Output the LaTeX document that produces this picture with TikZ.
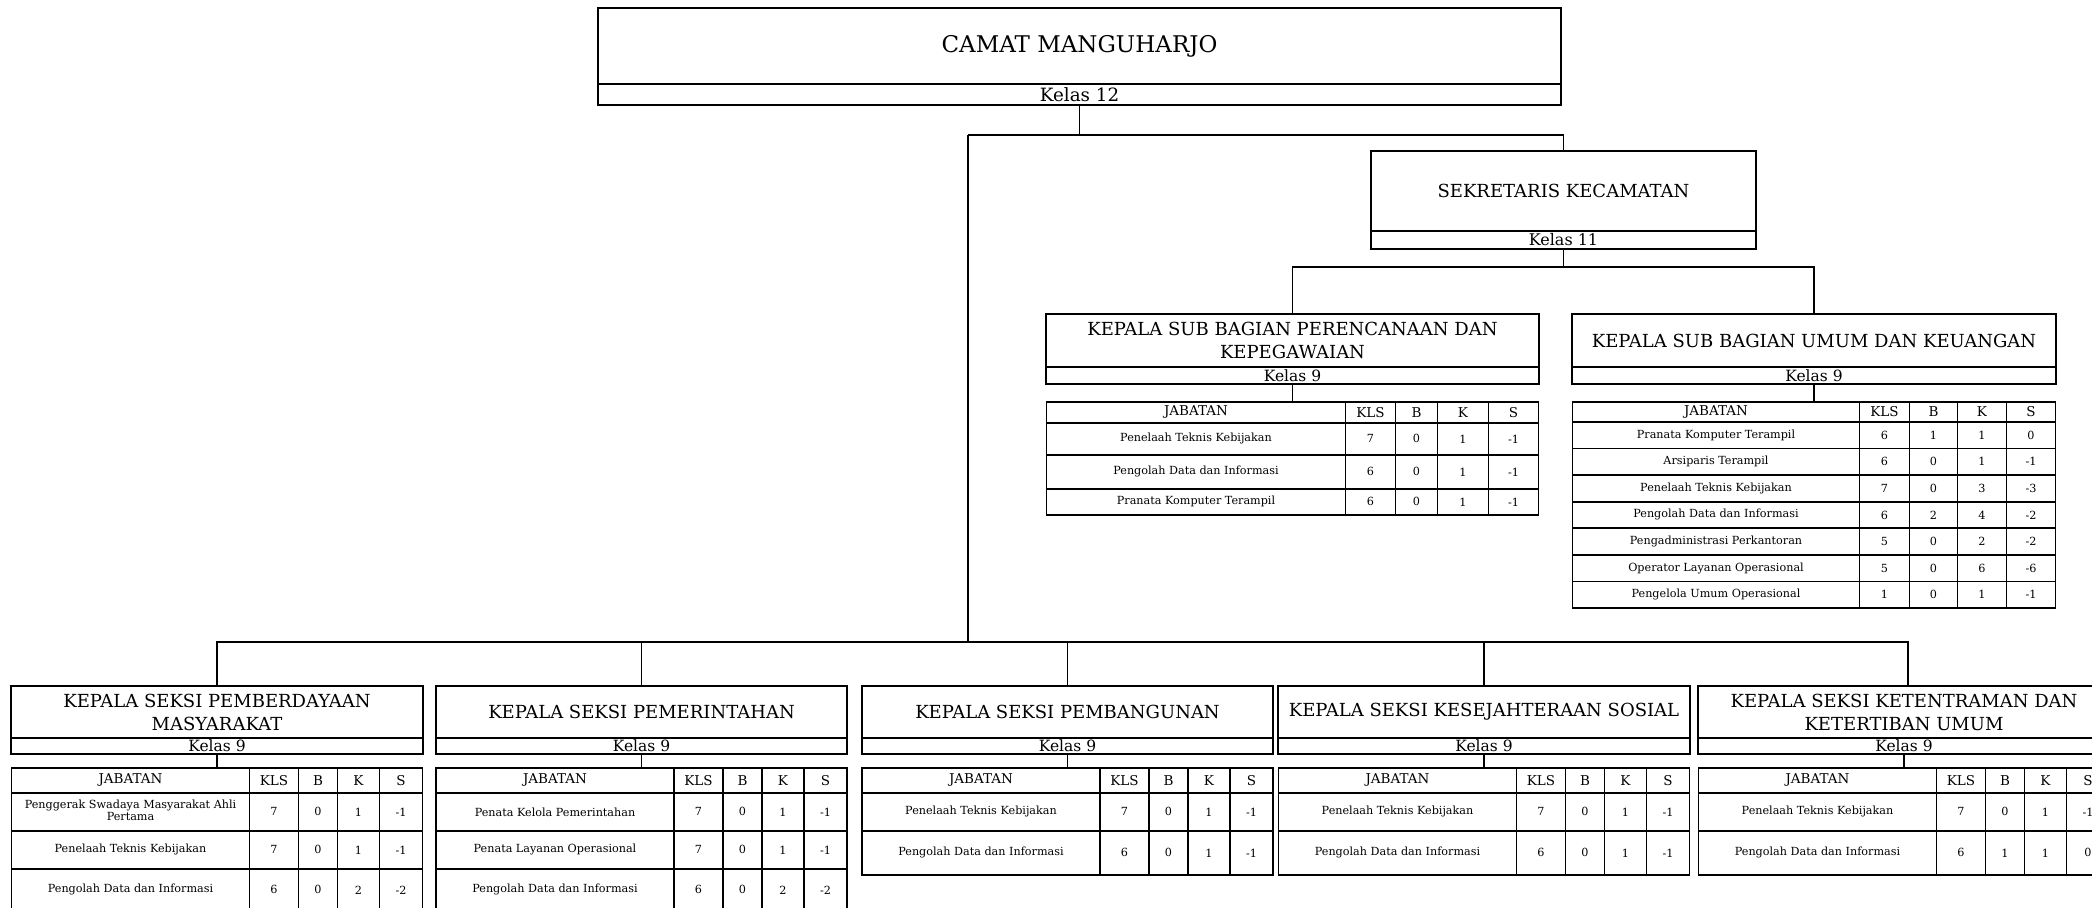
\documentclass[tikz,border=0pt]{standalone}
\usepackage{fontspec}
\setmainfont{DejaVu Serif}
\usetikzlibrary{positioning,matrix}

\newcommand{\fcamat}{\fontsize{23}{26}\selectfont}
\newcommand{\fjudul}{\fontsize{18}{23}\selectfont}
\newcommand{\fkelas}{\fontsize{15.5}{17}\selectfont}
\newcommand{\fkelassek}{\fontsize{16}{17}\selectfont}
\newcommand{\fkelasatas}{\fontsize{18.3}{19}\selectfont}
\newcommand{\fjab}{\fontsize{13.5}{14}\selectfont}
\newcommand{\fisi}{\fontsize{11.2}{11}\selectfont}

\begin{document}
\begin{tikzpicture}[
  x=1pt, y=-1pt,
  garis/.style={line width=1.8pt},
  judul/.style={draw, line width=1.8pt, inner sep=0pt, outer sep=0pt, align=center, font=\fjudul, anchor=north},
  kelas/.style={draw, line width=1.8pt, inner sep=0pt, outer sep=0pt, font=\fkelas, minimum height=16pt},
  jtab/.style={matrix of nodes, inner sep=0pt, outer sep=0pt, column sep=-1.7pt, row sep=-1.7pt,
    nodes={draw, line width=1.7pt, inner sep=0pt, outer sep=0pt, font=\fisi, anchor=center}},
  tabatas1/.style={jtab,
    column 1/.style={nodes={minimum width=299pt}},
    column 2/.style={nodes={minimum width=50pt}},
    column 3/.style={nodes={minimum width=42pt}},
    column 4/.style={nodes={minimum width=51pt}},
    column 5/.style={nodes={minimum width=50pt}},
    row 1/.style={nodes={minimum height=21pt, font=\fjab}},
    row 2/.style={nodes={minimum height=32pt}},
    row 3/.style={nodes={minimum height=34pt}},
    row 4/.style={nodes={minimum height=26pt}}},
  tabatas2/.style={jtab,
    nodes={minimum height=26.6pt},
    column 1/.style={nodes={minimum width=287pt}},
    column 2/.style={nodes={minimum width=50pt}},
    column 3/.style={nodes={minimum width=48pt}},
    column 4/.style={nodes={minimum width=49pt}},
    column 5/.style={nodes={minimum width=49pt}},
    row 1/.style={nodes={minimum height=20pt, font=\fjab}}},
  tabbawah/.style={jtab,
    nodes={minimum height=38pt},
    column 1/.style={nodes={minimum width=238pt}},
    column 2/.style={nodes={minimum width=49pt}},
    column 3/.style={nodes={minimum width=39pt}},
    column 4/.style={nodes={minimum width=42pt}},
    column 5/.style={nodes={minimum width=43pt}},
    row 1/.style={nodes={minimum height=25pt, font=\fjab}}},
  node distance=0pt
]
\fill[white] (0,0) rectangle (2092,907);
\useasboundingbox (0,0) rectangle (2092,907);
\clip (0,0) rectangle (2092,907);

% camat dan sekretaris
\node[judul, font=\fcamat, minimum width=963pt, minimum height=76pt] (camat) at (1079.5,8) {CAMAT MANGUHARJO};
\node[kelas, font=\fkelasatas, minimum width=963pt, minimum height=21pt, below=of camat] (camatkls) {Kelas 12};
\node[judul, minimum width=385pt, minimum height=80pt] (sekcam) at (1563.5,151) {SEKRETARIS KECAMATAN};
\node[kelas, font=\fkelassek, minimum width=385pt, minimum height=18pt, below=of sekcam] (sekcamkls) {Kelas 11};

% sub bagian
\node[judul, minimum width=493pt, minimum height=53pt] (ksbren) at (1292.5,314) {KEPALA SUB BAGIAN PERENCANAAN DAN\\KEPEGAWAIAN};
\node[kelas, minimum width=493pt, minimum height=17pt, below=of ksbren] (ksbrenkls) {Kelas 9};
\matrix[tabatas1, below=17pt of ksbrenkls] (tren) {
  JABATAN & KLS & B & K & S \\
  Penelaah Teknis Kebijakan & 7 & 0 & 1 & -1 \\
  Pengolah Data dan Informasi & 6 & 0 & 1 & -1 \\
  Pranata Komputer Terampil & 6 & 0 & 1 & -1 \\
};

\node[judul, minimum width=484pt, minimum height=53pt] (ksbumum) at (1814,314) {KEPALA SUB BAGIAN UMUM DAN KEUANGAN};
\node[kelas, minimum width=484pt, minimum height=17pt, below=of ksbumum] (ksbumumkls) {Kelas 9};
\matrix[tabatas2, below=17pt of ksbumumkls] (tumum) {
  JABATAN & KLS & B & K & S \\
  Pranata Komputer Terampil & 6 & 1 & 1 & 0 \\
  Arsiparis Terampil & 6 & 0 & 1 & -1 \\
  Penelaah Teknis Kebijakan & 7 & 0 & 3 & -3 \\
  Pengolah Data dan Informasi & 6 & 2 & 4 & -2 \\
  Pengadministrasi Perkantoran & 5 & 0 & 2 & -2 \\
  Operator Layanan Operasional & 5 & 0 & 6 & -6 \\
  Pengelola Umum Operasional & 1 & 0 & 1 & -1 \\
};

% seksi
\node[judul, minimum width=412pt, minimum height=52pt] (ksipm) at (217,686) {KEPALA SEKSI PEMBERDAYAAN\\MASYARAKAT};
\node[kelas, minimum width=412pt, below=of ksipm] (ksipmkls) {Kelas 9};
\matrix[tabbawah, row 4/.style={nodes={minimum height=42pt}}, below=13pt of ksipmkls] (tpm) {
  JABATAN & KLS & B & K & S \\
  {\begin{tabular}{@{}c@{}}Penggerak Swadaya Masyarakat Ahli\\Pertama\end{tabular}} & 7 & 0 & 1 & -1 \\
  Penelaah Teknis Kebijakan & 7 & 0 & 1 & -1 \\
  Pengolah Data dan Informasi & 6 & 0 & 2 & -2 \\
};

\node[judul, minimum width=411pt, minimum height=52pt] (ksipem) at (641.5,686) {KEPALA SEKSI PEMERINTAHAN};
\node[kelas, minimum width=411pt, below=of ksipem] (ksipemkls) {Kelas 9};
\matrix[tabbawah, row 4/.style={nodes={minimum height=42pt}}, below=13pt of ksipemkls] (tpem) {
  JABATAN & KLS & B & K & S \\
  Penata Kelola Pemerintahan & 7 & 0 & 1 & -1 \\
  Penata Layanan Operasional & 7 & 0 & 1 & -1 \\
  Pengolah Data dan Informasi & 6 & 0 & 2 & -2 \\
};

\node[judul, minimum width=411pt, minimum height=52pt] (ksipbg) at (1067.5,686) {KEPALA SEKSI PEMBANGUNAN};
\node[kelas, minimum width=411pt, below=of ksipbg] (ksipbgkls) {Kelas 9};
\matrix[tabbawah, row 3/.style={nodes={minimum height=44pt}}, below=13pt of ksipbgkls] (tpbg) {
  JABATAN & KLS & B & K & S \\
  Penelaah Teknis Kebijakan & 7 & 0 & 1 & -1 \\
  Pengolah Data dan Informasi & 6 & 0 & 1 & -1 \\
};

\node[judul, minimum width=412pt, minimum height=52pt] (ksikesos) at (1484,686) {KEPALA SEKSI KESEJAHTERAAN SOSIAL};
\node[kelas, minimum width=412pt, below=of ksikesos] (ksikesoskls) {Kelas 9};
\matrix[tabbawah, row 3/.style={nodes={minimum height=44pt}}, below=13pt of ksikesoskls] (tkesos) {
  JABATAN & KLS & B & K & S \\
  Penelaah Teknis Kebijakan & 7 & 0 & 1 & -1 \\
  Pengolah Data dan Informasi & 6 & 0 & 1 & -1 \\
};

\node[judul, minimum width=412pt, minimum height=52pt] (ksitrantib) at (1904,686) {KEPALA SEKSI KETENTRAMAN DAN\\KETERTIBAN UMUM};
\node[kelas, minimum width=412pt, below=of ksitrantib] (ksitrantibkls) {Kelas 9};
\matrix[tabbawah, row 3/.style={nodes={minimum height=44pt}}, below=13pt of ksitrantibkls] (ttrantib) {
  JABATAN & KLS & B & K & S \\
  Penelaah Teknis Kebijakan & 7 & 0 & 1 & -1 \\
  Pengolah Data dan Informasi & 6 & 1 & 1 & 0 \\
};

% garis penghubung
\coordinate (cabang1) at (968,135);
\coordinate (cabang2) at (1563.5,267);
\coordinate (bus) at (968,642);
\draw[garis] (camatkls.south) |- (cabang1) -| (sekcam.north);
\draw[garis] (sekcamkls.south) -- (cabang2);
\draw[garis] (ksbren.north) |- (cabang2) -| (ksbumum.north);
\draw[garis] (cabang1) -- (bus);
\draw[garis] (ksipm.north) |- (bus) -| (ksipbg.north);
\draw[garis] (ksipem.north) |- (bus);
\draw[garis] (bus) -| (ksikesos.north);
\draw[garis] (bus) -| ([xshift=4pt]ksitrantib.north);
\draw[garis] (ksbrenkls.south) -- (tren.north);
\draw[garis] (ksbumumkls.south) -- (tumum.north);
\draw[garis] (ksipmkls.south) -- (tpm.north);
\draw[garis] (ksipemkls.south) -- (tpem.north);
\draw[garis] (ksipbgkls.south) -- (tpbg.north);
\draw[garis] (ksikesoskls.south) -- (tkesos.north);
\draw[garis] (ksitrantibkls.south) -- (ttrantib.north);
\end{tikzpicture}
\end{document}
